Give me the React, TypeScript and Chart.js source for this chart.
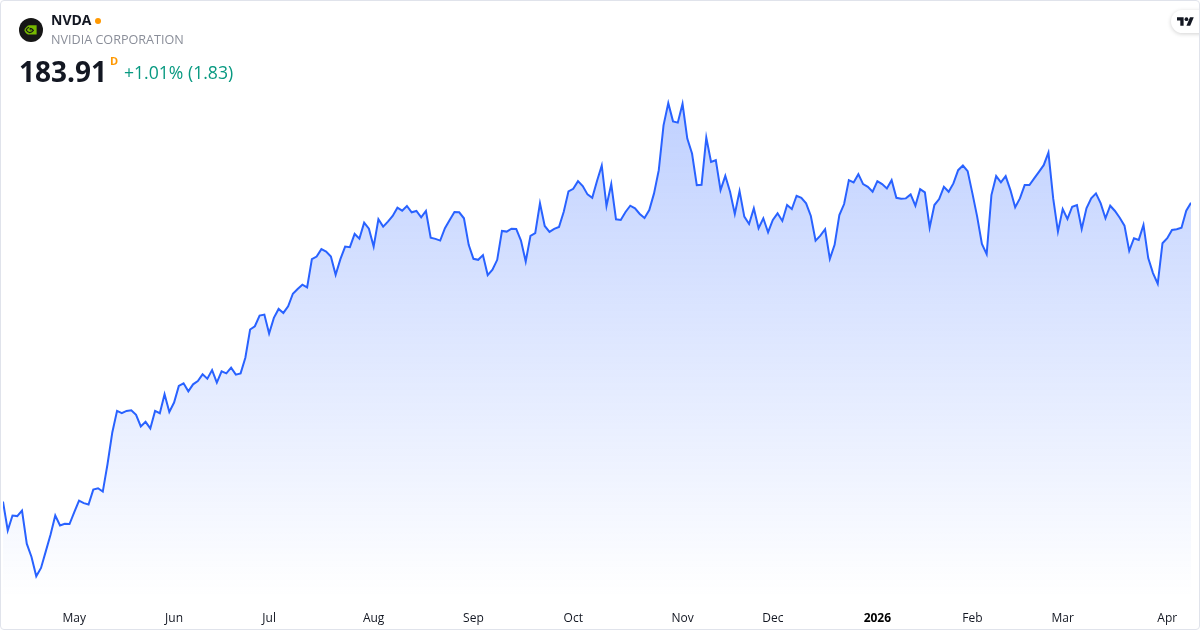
import React, { useEffect, useRef } from "react";
import { Chart, registerables } from "chart.js";

Chart.register(...registerables);

// Daily closes, Apr 9 2025 -> Apr 9 2026
const closePrices: number[] = [
  114.31, 107.59, 111.07, 110.93, 112.23, 104.5, 101.41, 96.91, 98.86, 102.71,
  106.59, 111.07, 108.75, 109.14, 109.07, 111.85, 114.55, 113.94, 113.62, 117.1,
  117.42, 116.63, 123.06, 130.41, 135.43, 134.89, 135.43, 135.59, 134.5, 131.81,
  132.87, 131.34, 135.43, 134.89, 139.3, 135.19, 137.37, 141.23, 141.85, 140.0,
  141.62, 142.39, 143.94, 142.94, 144.94, 142.01, 144.64, 144.17, 145.49, 143.87,
  144.17, 147.81, 154.38, 155.15, 157.63, 157.86, 153.45, 157.09, 159.18, 158.25,
  159.79, 162.73, 163.82, 164.82, 164.19, 170.78, 171.39, 173.1, 172.55, 171.39,
  167.14, 170.78, 173.71, 173.57, 176.65, 175.56, 179.27, 177.88, 173.71, 180.06,
  178.35, 179.51, 180.83, 182.75, 182.06, 183.15, 181.69, 181.99, 180.53, 181.99,
  175.79, 175.49, 175.1, 177.97, 179.9, 181.76, 181.69, 180.29, 174.1, 170.85,
  170.62, 171.71, 167.07, 168.3, 170.62, 177.35, 177.19, 177.88, 177.81, 175.1,
  170.23, 176.19, 176.81, 183.77, 178.51, 177.12, 177.81, 178.28, 181.83, 186.56,
  187.16, 188.95, 187.79, 185.86, 185.07, 188.99, 192.59, 183.15, 188.25, 180.06,
  179.9, 181.76, 183.22, 182.61, 181.29, 180.36, 182.22, 186.09, 191.5, 201.94,
  207.11, 202.87, 202.57, 206.97, 198.85, 195.37, 188.02, 188.09, 199.09, 193.43,
  193.82, 186.86, 190.18, 186.47, 181.29, 186.63, 180.67, 178.97, 182.61, 177.97,
  180.29, 177.05, 179.9, 181.45, 179.67, 183.38, 182.45, 185.54, 185.07, 183.77,
  180.83, 175.1, 176.26, 177.74, 170.85, 174.1, 181.06, 183.61, 189.18, 188.65,
  190.57, 188.25, 187.63, 186.47, 188.95, 188.25, 187.25, 189.18, 185.07, 184.84,
  184.93, 185.86, 183.22, 187.09, 186.33, 178.11, 183.38, 184.77, 187.63, 186.47,
  188.41, 191.5, 192.59, 191.27, 186.09, 180.67, 174.33, 171.94, 185.7, 190.11,
  188.65, 190.11, 186.86, 182.85, 184.93, 188.02, 188.02, 189.57, 191.11, 192.66,
  195.61, 184.93, 177.19, 182.45, 180.13, 182.99, 183.38, 177.81, 182.61, 184.93,
  186.09, 183.77, 180.29, 183.22, 181.99, 180.43, 178.58, 172.71, 175.65, 175.26,
  178.74, 171.01, 167.53, 165.05, 174.49, 175.65, 177.58, 177.74, 178.11, 182.08,
  183.91,
];

// Index (trading day) of the first session of each month, and its label
const monthTickIndex: number[] = [15, 36, 56, 78, 99, 120, 143, 162, 184, 204, 223, 245];
const monthTickLabels: string[] = ["May", "Jun", "Jul", "Aug", "Sep", "Oct", "Nov", "Dec", "2026", "Feb", "Mar", "Apr"];

const tickerSymbol = "NVDA";
const companyName = "NVIDIA CORPORATION";
const lastPrice = "183.91";
const intervalMark = "D";
const changeText = "+1.01% (1.83)";

const yMin = 92.13;
const yMax = 209.94;

const FONT = "'Open Sans', 'DejaVu Sans', sans-serif";

export default function App() {
  const canvasRef = useRef<HTMLCanvasElement | null>(null);

  useEffect(() => {
    document.body.style.margin = "0";
    const canvas = canvasRef.current;
    if (!canvas) return;
    const chart = new Chart(canvas, {
      type: "line",
      data: {
        datasets: [
          {
            data: closePrices.map((v, i) => ({ x: i, y: v })),
            borderColor: "#2962ff",
            borderWidth: 2,
            pointRadius: 0,
            pointHoverRadius: 0,
            tension: 0,
            fill: "start",
            backgroundColor: (ctx: any) => {
              const { chart: ch } = ctx;
              const area = ch.chartArea;
              if (!area) return "rgba(41,98,255,0.15)";
              const g = ch.ctx.createLinearGradient(0, area.top, 0, area.bottom);
              g.addColorStop(0, "rgba(41,98,255,0.30)");
              g.addColorStop(1, "rgba(41,98,255,0.0)");
              return g;
            },
          },
        ],
      },
      options: {
        animation: false,
        responsive: false,
        maintainAspectRatio: false,
        events: [],
        layout: { padding: { left: 3, right: 9, top: 91, bottom: 5 } },
        plugins: { legend: { display: false }, tooltip: { enabled: false } },
        scales: {
          x: {
            type: "linear",
            min: 0,
            max: closePrices.length - 1,
            grid: { display: false, drawTicks: false },
            border: { display: false },
            afterBuildTicks: (axis: any) => {
              axis.ticks = monthTickIndex.map((v) => ({ value: v }));
            },
            ticks: {
              autoSkip: false,
              maxRotation: 0,
              padding: 14.4,
              color: (ctx: any) => (monthTickLabels[ctx.index] === "2026" ? "#000000" : "#131722"),
              font: (ctx: any) => ({
                family: FONT,
                size: 12,
                weight: monthTickLabels[ctx.index] === "2026" ? "bold" : "normal",
              }),
              callback: (value: any) => {
                const i = monthTickIndex.indexOf(Number(value));
                return i >= 0 ? monthTickLabels[i] : "";
              },
            },
          },
          y: { display: false, min: yMin, max: yMax },
        },
      },
    } as any);
    return () => chart.destroy();
  }, []);

  return (
    <div style={{ position: "fixed", left: 0, top: 0, width: 1200, height: 630, background: "#ffffff", overflow: "hidden", fontFamily: FONT }}>
      <canvas ref={canvasRef} width={1200} height={645} style={{ position: "absolute", left: 0, top: 0, width: 1200, height: 645 }} />

      {/* logo */}
      <svg width="24" height="24" viewBox="0 0 24 24" style={{ position: "absolute", left: 19, top: 18 }}>
        <circle cx="12" cy="12" r="12" fill="#161616" />
        <path d="M10 7.2 H17.6 V16.6 H10 C7.2 16.4 5.4 13.6 5.4 12 C6.4 9.6 8.2 7.7 10 7.2 Z" fill="#76b900" />
        <path d="M10 9.2 C8.6 9.7 7.6 10.8 7.2 12 C7.9 13.4 9 14.4 10.6 14.6 C12.4 14.6 13.6 13.6 14.4 12.4 C13.4 11 12.2 10.3 10.6 10.4" fill="none" stroke="#161616" strokeWidth="1.1" />
        <path d="M10.6 11.6 C11.4 11.6 11.9 12 12.3 12.5" fill="none" stroke="#161616" strokeWidth="1" />
      </svg>

      <div style={{ position: "absolute", left: 51, top: 12.3, fontSize: 14, lineHeight: "16px", fontWeight: 700, color: "#131722" }}>{tickerSymbol}</div>
      <div style={{ position: "absolute", left: 95, top: 18, width: 6, height: 6, borderRadius: 3, background: "#ff9800" }} />
      <div style={{ position: "absolute", left: 51, top: 32, fontSize: 12.6, lineHeight: "16px", color: "#8a8e99", whiteSpace: "nowrap" }}>{companyName}</div>

      <div style={{ position: "absolute", left: 19, top: 54.8, fontSize: 28, lineHeight: "32px", fontWeight: 700, color: "#131722" }}>{lastPrice}</div>
      <div style={{ position: "absolute", left: 110, top: 54.7, fontSize: 11, lineHeight: "12px", fontWeight: 700, color: "#ff9800" }}>{intervalMark}</div>
      <div style={{ position: "absolute", left: 124, top: 62.3, fontSize: 17.6, lineHeight: "20px", color: "#089981", whiteSpace: "nowrap" }}>{changeText}</div>

      {/* TradingView badge */}
      <div style={{ position: "absolute", left: 1171, top: 10, width: 46, height: 23, borderRadius: 12, background: "#ffffff", boxShadow: "0 1px 4px rgba(0,0,0,0.18)" }}>
        <svg width="17" height="9" viewBox="0 4 36 18" style={{ position: "absolute", left: 6, top: 6.5 }}>
          <path d="M14 22H7V11H0V4h14v18z" fill="#131722" />
          <path d="M28 22h-8l7.5-18h8L28 22z" fill="#131722" />
          <circle cx="20" cy="8" r="4" fill="#131722" />
        </svg>
      </div>

      {/* card border */}
      <div style={{ position: "absolute", left: 0, top: 0, width: 1200, height: 630, boxSizing: "border-box", border: "1px solid #e0e3eb", borderRadius: 4, pointerEvents: "none" }} />
    </div>
  );
}
